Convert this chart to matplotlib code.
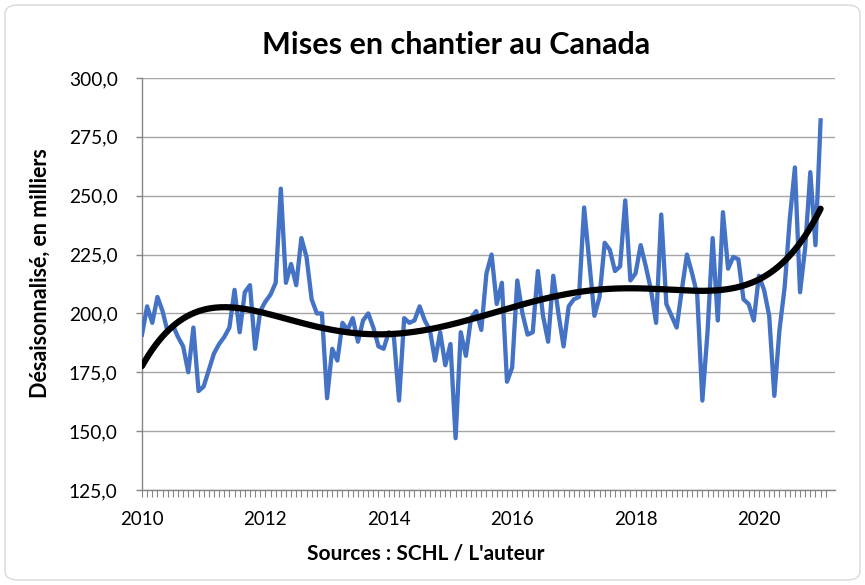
import numpy as np
import matplotlib
matplotlib.use("Agg")
import matplotlib.pyplot as plt
from matplotlib.patches import FancyBboxPatch
from matplotlib.ticker import FuncFormatter, MultipleLocator

# Monthly housing starts (thousands, SAAR), Jan 2010 - Jan 2021
starts = [191, 203, 196, 207, 201, 192, 195, 190, 186, 175, 194, 167,
          169, 176, 183, 187, 190, 194, 210, 192, 209, 212, 185, 201,
          205, 208, 213, 253, 213, 221, 212, 232, 224, 206, 200, 200,
          164, 185, 180, 196, 193, 198, 188, 197, 200, 194, 186, 185,
          192, 190, 163, 198, 196, 197, 203, 197, 193, 180, 192, 178,
          187, 147, 192, 182, 198, 201, 193, 217, 225, 204, 213, 171,
          177, 214, 200, 191, 192, 218, 199, 188, 216, 200, 186, 203,
          206, 207, 245, 222, 199, 207, 230, 227, 218, 220, 248, 214,
          217, 229, 220, 210, 196, 242, 204, 199, 194, 210, 225, 217,
          208, 163, 192, 232, 197, 243, 219, 224, 223, 206, 204, 197,
          216, 210, 199, 165, 193, 211, 240, 262, 209, 228, 260, 229,
          282]
year_labels = ["2010", "2012", "2014", "2016", "2018", "2020"]
title = "Mises en chantier au Canada"
ylabel = "Désaisonnalisé, en milliers"
xlabel = "Sources : SCHL / L'auteur"

plt.rcParams['font.family'] = ['Lato', 'DejaVu Sans']

fig = plt.figure(figsize=(8.65, 5.85), dpi=100)
ax = fig.add_axes([142/865, 1-490/585, (835-142)/865, (490-78)/585])

months = np.arange(len(starts))
y = np.array(starts, dtype=float)
ax.plot(months, y, color='#4472C4', lw=3.1, solid_joinstyle='round', zorder=3)

# polynomial trend line, as computed by the spreadsheet
xs = (months - months.mean()) / months.std()
coef = np.polyfit(xs, y, 5)
xf = np.linspace(xs.min(), xs.max(), 400)
mf = xf * months.std() + months.mean()
ax.plot(mf, np.polyval(coef, xf), color='black', lw=4.5, solid_capstyle='round', zorder=4)

ax.set_xlim(0, 134.8)
ax.set_ylim(125, 300)
ax.yaxis.set_major_locator(MultipleLocator(25))
ax.yaxis.set_major_formatter(FuncFormatter(lambda v, p: f"{v:.1f}".replace('.', ',')))
ax.set_xticks(np.arange(0, 121, 24))
ax.set_xticklabels(year_labels)
ax.set_xticks(np.arange(0, 134, 1), minor=True)

ax.grid(axis='y', color='#a6a6a6', lw=1.0)
ax.set_axisbelow(True)
for s in ['top', 'right']:
    ax.spines[s].set_visible(False)
for s in ['left', 'bottom']:
    ax.spines[s].set_color('#868686')
    ax.spines[s].set_linewidth(1.0)

ax.tick_params(axis='y', length=4.5, width=1, color='#868686', pad=13, labelsize=13.8)
ax.tick_params(axis='x', which='both', length=5, width=0.8, color='#868686', pad=10, labelsize=13.5)

fig.text(456/865, 1-45/585, title, ha='center', va='center', fontsize=22, fontweight='bold')
fig.text(40/865, 1-273/585, ylabel, ha='center', va='center', rotation=90, fontsize=15.5, fontweight='bold')
fig.text(426/865, 1-553/585, xlabel, ha='center', va='center', fontsize=15, fontweight='bold')

border = FancyBboxPatch((5/865, 5/585), 855/865, 575/585, boxstyle="round,pad=0,rounding_size=0.015",
                        transform=fig.transFigure, fill=False, edgecolor='#d9d9d9', lw=1.0)
fig.patches.append(border)

fig.savefig('out.png', dpi=100)
